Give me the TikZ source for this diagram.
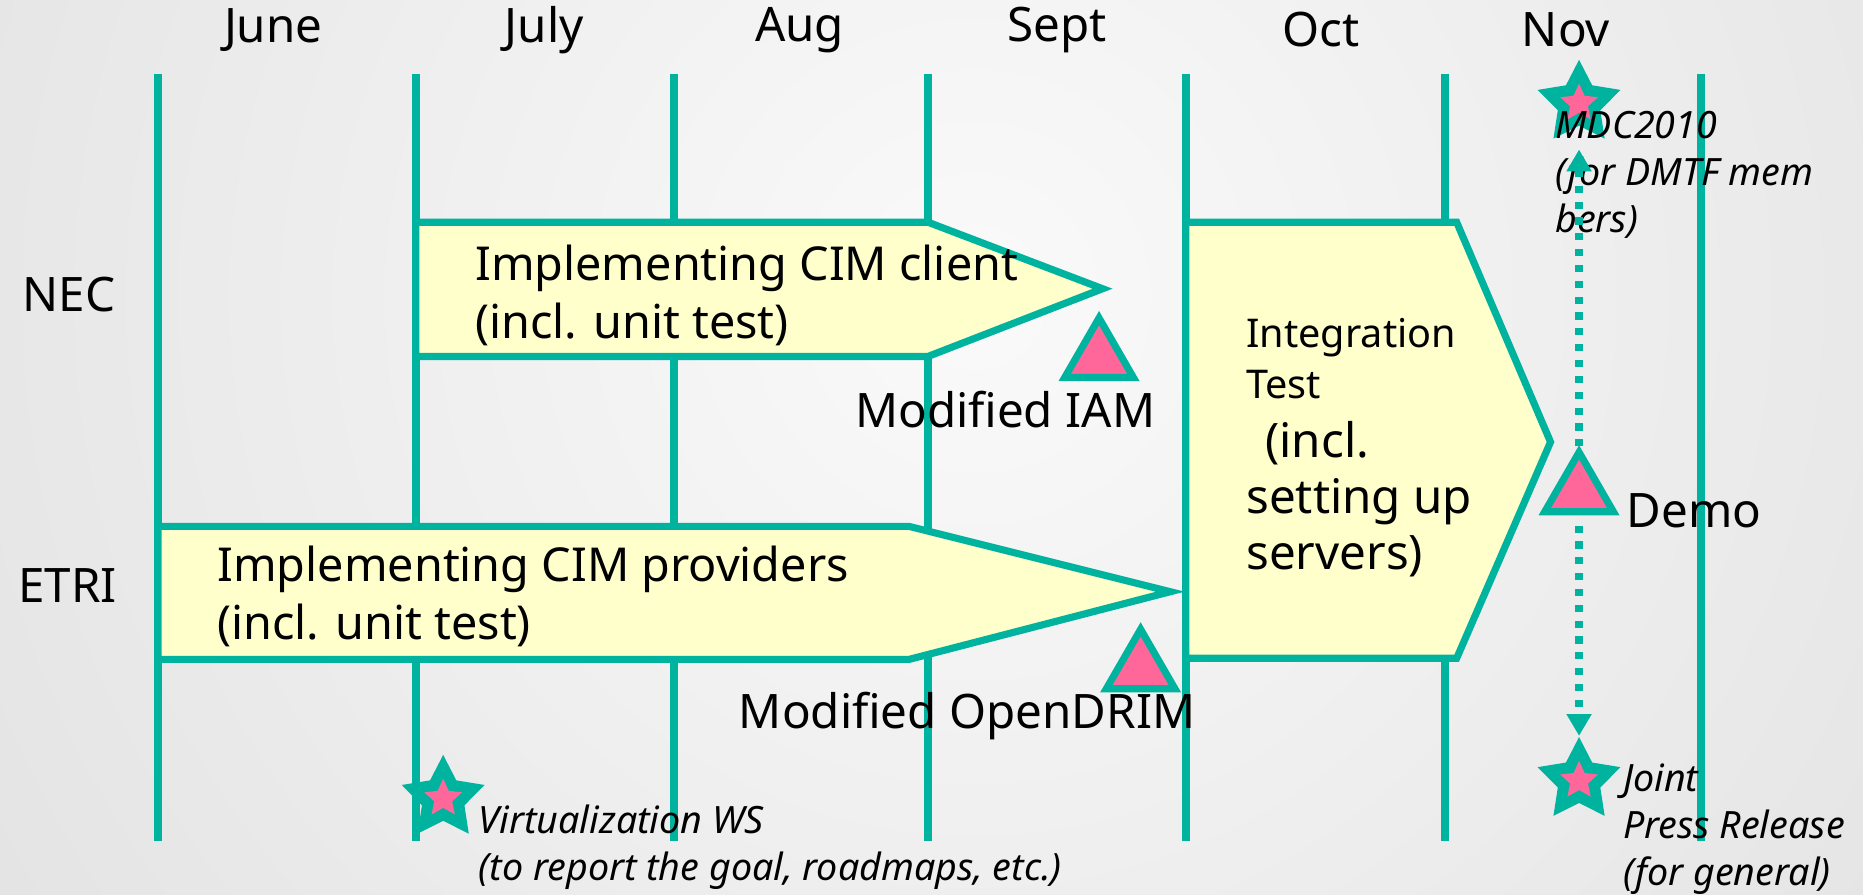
\documentclass[tikz,border=0pt]{standalone}
\usepackage{fontspec}
\setmainfont{Noto Sans}
\usetikzlibrary{shapes.geometric,arrows.meta}
\definecolor{tealc}{RGB}{0,179,159}
\definecolor{pinkc}{RGB}{255,102,153}
\definecolor{yelc}{RGB}{255,255,204}
\tikzset{
 every node/.style={inner sep=0pt, outer sep=0pt},
 grid/.style={tealc, line width=4pt},
 phase/.style={draw=tealc, fill=yelc, line width=3.6pt, line join=miter},
 lbl/.style={font=\fontsize{24}{29.4}\selectfont, text=black},
 bar/.style={font=\fontsize{23.6}{29.4}\selectfont, text=black, anchor=west, align=left},
 ital/.style={font=\fontsize{19}{23.6}\selectfont\itshape, align=left, text=black},
 tri/.style={regular polygon, regular polygon sides=3, draw=tealc, fill=pinkc, line width=3.6pt, minimum size=40pt},
 bigstar/.style={star, star points=5, star point ratio=1.95, fill=tealc, minimum size=44pt},
 smallstar/.style={star, star points=5, star point ratio=2.1, fill=pinkc, minimum size=20pt},
 dotarrow/.style={tealc, line width=3.6pt, dash pattern=on 3.6pt off 4.4pt, -{Triangle[width=12pt,length=11pt]}},
}
\begin{document}
\begin{tikzpicture}[x=0.6pt,y=-0.6pt]
\useasboundingbox (0,0) rectangle (1568,753);
\begin{scope}
\clip (0,0) rectangle (1568,753);
\shade[inner color=black!2, outer color=black!11] (820,250) circle[radius=1000];
\end{scope}
% grid lines
\foreach \x [count=\i] in {133,350,567,781,998,1216,1432}{
  \coordinate (t\i) at (\x,62);
  \coordinate (b\i) at (\x,708);
  \draw[grid] (t\i) -- (b\i);
}
% months
\node[lbl] (june) at (230,25) {June};
\node[lbl] (july) at (458,25) {July};
\node[lbl] (aug) at (673,25) {Aug};
\node[lbl] (sept) at (890,25) {Sept};
\node[lbl] (oct) at (1112,25) {Oct};
\node[lbl] (nov) at (1318,25) {Nov};
% rows
\node[lbl] (nec) at (58,248) {NEC};
\node[lbl] (etri) at (57,493) {ETRI};
% phases
\draw[phase] (350,187) -- (781,187) -- (928,243) -- (781,300) -- (350,300) -- cycle;
\draw[phase] (133,443) -- (765,443) -- (985,498) -- (765,555) -- (133,555) -- cycle;
\draw[phase] (998,187) -- (1226,187) -- (1305,372) -- (1226,554) -- (998,554) -- cycle;
\node[bar] (necT) at (400,248.5) {Implementing CIM client\\(incl. unit test)};
\node[bar] (etriT) at (183,502) {Implementing CIM providers\\(incl. unit test)};
\node[font=\fontsize{20}{25.8}\selectfont, anchor=west, align=left] (intA) at (1049,301.5) {Integration\\Test};
\node[font=\fontsize{24}{28.2}\selectfont, anchor=west, align=left] (intB) at (1049,420) {\hspace*{0.4em}(incl.\\setting up\\servers)};
% milestones
\node[tri] (iam) at (925,301) {};
\node[tri] (odr) at (960,563) {};
\node[tri] (demo) at (1329,414) {};
\node[lbl] (iamL) at (846,345) {Modified IAM};
\node[lbl] (odrL) at (814,603) {Modified OpenDRIM};
\node[lbl, anchor=west] (demoL) at (1369,430) {Demo};
% stars
\node[bigstar] (mdc) at (1329,87) {};
\node[smallstar] (mdcin) at (mdc) {};
\node[bigstar] (vws) at (373,672) {};
\node[smallstar] (vwsin) at (vws) {};
\node[bigstar] (jpr) at (1329,657) {};
\node[smallstar] (jprin) at (jpr) {};
\node[ital, anchor=west] (mdcT) at (1309,147) {MDC2010\\(for DMTF mem\\bers)};
\node[ital, anchor=west] (vwsT) at (403,713) {Virtualization WS\\(to report the goal, roadmaps, etc.)};
\node[ital, anchor=west] (jprT) at (1366,698) {Joint\\Press Release\\(for general)};
% connectors
\draw[dotarrow, shorten <=3pt, shorten >=12pt] (demo.north) -- (mdc.south);
\draw[dotarrow, shorten <=7pt, shorten >=0.6pt] (demo.south) -- (jpr.north);
\end{tikzpicture}
\end{document}
